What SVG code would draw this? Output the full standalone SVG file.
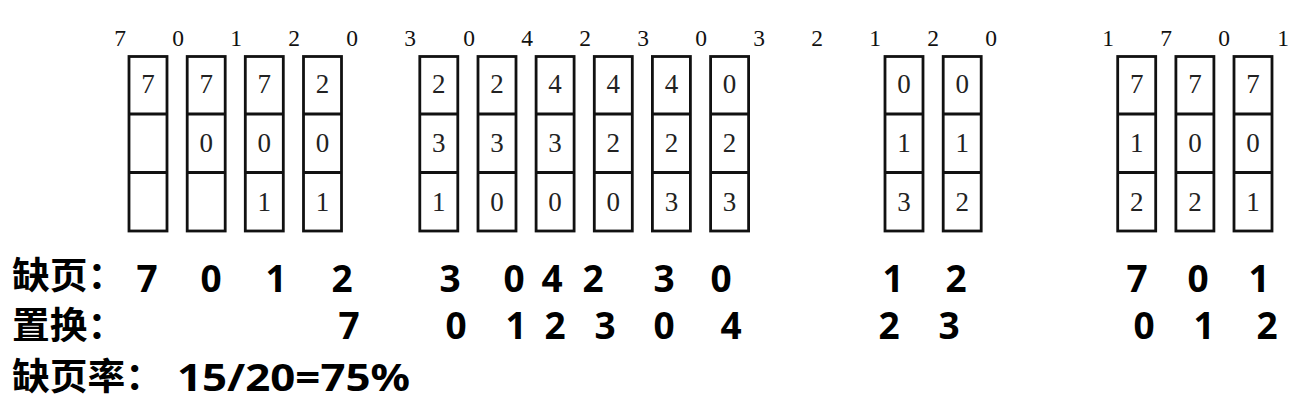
<svg xmlns="http://www.w3.org/2000/svg" width="1297" height="409" viewBox="0 0 1297 409">
<style>
.ref{font-family:"Liberation Serif","Times New Roman",serif;font-size:23.5px;fill:#111;text-anchor:middle}
.bx{fill:#fff;stroke:#111;stroke-width:2.8}
.dv{stroke:#111;stroke-width:2.8}
.fr text{font-family:"Liberation Serif","Times New Roman",serif;font-size:27px;fill:#222;text-anchor:middle}
.lab{font-family:"Noto Sans CJK SC","Noto Sans",sans-serif;font-weight:bold;font-size:37px;fill:#000}
.num{font-family:"Noto Sans","Noto Sans CJK SC",sans-serif;font-weight:bold;font-size:37px;fill:#000;text-anchor:middle}
</style>
<rect width="1297" height="409" fill="#fff"/>
<defs>
<g id="box"><rect class="bx" x="-19" y="56.5" width="38" height="174.5"/><line class="dv" x1="-19" y1="114" x2="19" y2="114"/><line class="dv" x1="-19" y1="172.5" x2="19" y2="172.5"/></g>
</defs>
<g id="reference-string">
<text class="ref" x="120" y="46">7</text>
<text class="ref" x="178" y="46">0</text>
<text class="ref" x="236" y="46">1</text>
<text class="ref" x="294" y="46">2</text>
<text class="ref" x="352" y="46">0</text>
<text class="ref" x="410" y="46">3</text>
<text class="ref" x="469" y="46">0</text>
<text class="ref" x="527" y="46">4</text>
<text class="ref" x="585" y="46">2</text>
<text class="ref" x="643" y="46">3</text>
<text class="ref" x="701" y="46">0</text>
<text class="ref" x="759" y="46">3</text>
<text class="ref" x="817" y="46">2</text>
<text class="ref" x="875" y="46">1</text>
<text class="ref" x="933" y="46">2</text>
<text class="ref" x="991" y="46">0</text>
<text class="ref" x="1108" y="46">1</text>
<text class="ref" x="1166" y="46">7</text>
<text class="ref" x="1224" y="46">0</text>
<text class="ref" x="1283" y="46">1</text>
</g>
<g id="frame-1" class="fr" transform="translate(148,0)"><use href="#box"/><text x="0" y="93">7</text></g>
<g id="frame-2" class="fr" transform="translate(206.2,0)"><use href="#box"/><text x="0" y="93">7</text><text x="0" y="152">0</text></g>
<g id="frame-3" class="fr" transform="translate(264.3,0)"><use href="#box"/><text x="0" y="93">7</text><text x="0" y="152">0</text><text x="0" y="211">1</text></g>
<g id="frame-4" class="fr" transform="translate(322.5,0)"><use href="#box"/><text x="0" y="93">2</text><text x="0" y="152">0</text><text x="0" y="211">1</text></g>
<g id="frame-5" class="fr" transform="translate(438.8,0)"><use href="#box"/><text x="0" y="93">2</text><text x="0" y="152">3</text><text x="0" y="211">1</text></g>
<g id="frame-6" class="fr" transform="translate(497,0)"><use href="#box"/><text x="0" y="93">2</text><text x="0" y="152">3</text><text x="0" y="211">0</text></g>
<g id="frame-7" class="fr" transform="translate(555.1,0)"><use href="#box"/><text x="0" y="93">4</text><text x="0" y="152">3</text><text x="0" y="211">0</text></g>
<g id="frame-8" class="fr" transform="translate(613.3,0)"><use href="#box"/><text x="0" y="93">4</text><text x="0" y="152">2</text><text x="0" y="211">0</text></g>
<g id="frame-9" class="fr" transform="translate(671.4,0)"><use href="#box"/><text x="0" y="93">4</text><text x="0" y="152">2</text><text x="0" y="211">3</text></g>
<g id="frame-10" class="fr" transform="translate(729.6,0)"><use href="#box"/><text x="0" y="93">0</text><text x="0" y="152">2</text><text x="0" y="211">3</text></g>
<g id="frame-11" class="fr" transform="translate(904,0)"><use href="#box"/><text x="0" y="93">0</text><text x="0" y="152">1</text><text x="0" y="211">3</text></g>
<g id="frame-12" class="fr" transform="translate(962.2,0)"><use href="#box"/><text x="0" y="93">0</text><text x="0" y="152">1</text><text x="0" y="211">2</text></g>
<g id="frame-13" class="fr" transform="translate(1136.7,0)"><use href="#box"/><text x="0" y="93">7</text><text x="0" y="152">1</text><text x="0" y="211">2</text></g>
<g id="frame-14" class="fr" transform="translate(1194.9,0)"><use href="#box"/><text x="0" y="93">7</text><text x="0" y="152">0</text><text x="0" y="211">2</text></g>
<g id="frame-15" class="fr" transform="translate(1253,0)"><use href="#box"/><text x="0" y="93">7</text><text x="0" y="152">0</text><text x="0" y="211">1</text></g>
<g id="page-faults">
<text class="lab" transform="translate(12,289) scale(1.02,1)">缺页：</text>
<text class="num" x="147" y="292">7</text>
<text class="num" x="211" y="292">0</text>
<text class="num" x="276" y="292">1</text>
<text class="num" x="342" y="292">2</text>
<text class="num" x="450" y="292">3</text>
<text class="num" x="514" y="292">0</text>
<text class="num" x="552" y="292">4</text>
<text class="num" x="593" y="292">2</text>
<text class="num" x="664" y="292">3</text>
<text class="num" x="721" y="292">0</text>
<text class="num" x="893" y="292">1</text>
<text class="num" x="956" y="292">2</text>
<text class="num" x="1137" y="292">7</text>
<text class="num" x="1198" y="292">0</text>
<text class="num" x="1259" y="292">1</text>
</g>
<g id="replacements">
<text class="lab" transform="translate(12,339) scale(1.02,1)">置换：</text>
<text class="num" x="349" y="339">7</text>
<text class="num" x="456" y="339">0</text>
<text class="num" x="516" y="339">1</text>
<text class="num" x="555" y="339">2</text>
<text class="num" x="605" y="339">3</text>
<text class="num" x="664" y="339">0</text>
<text class="num" x="731" y="339">4</text>
<text class="num" x="889" y="339">2</text>
<text class="num" x="949" y="339">3</text>
<text class="num" x="1144" y="339">0</text>
<text class="num" x="1204" y="339">1</text>
<text class="num" x="1267" y="339">2</text>
</g>
<g id="fault-rate">
<text class="lab" transform="translate(12,390) scale(1.02,1)">缺页率：</text>
<text class="num" x="177" y="391" style="text-anchor:start" textLength="233" lengthAdjust="spacingAndGlyphs">15/20=75%</text>
</g>
</svg>
